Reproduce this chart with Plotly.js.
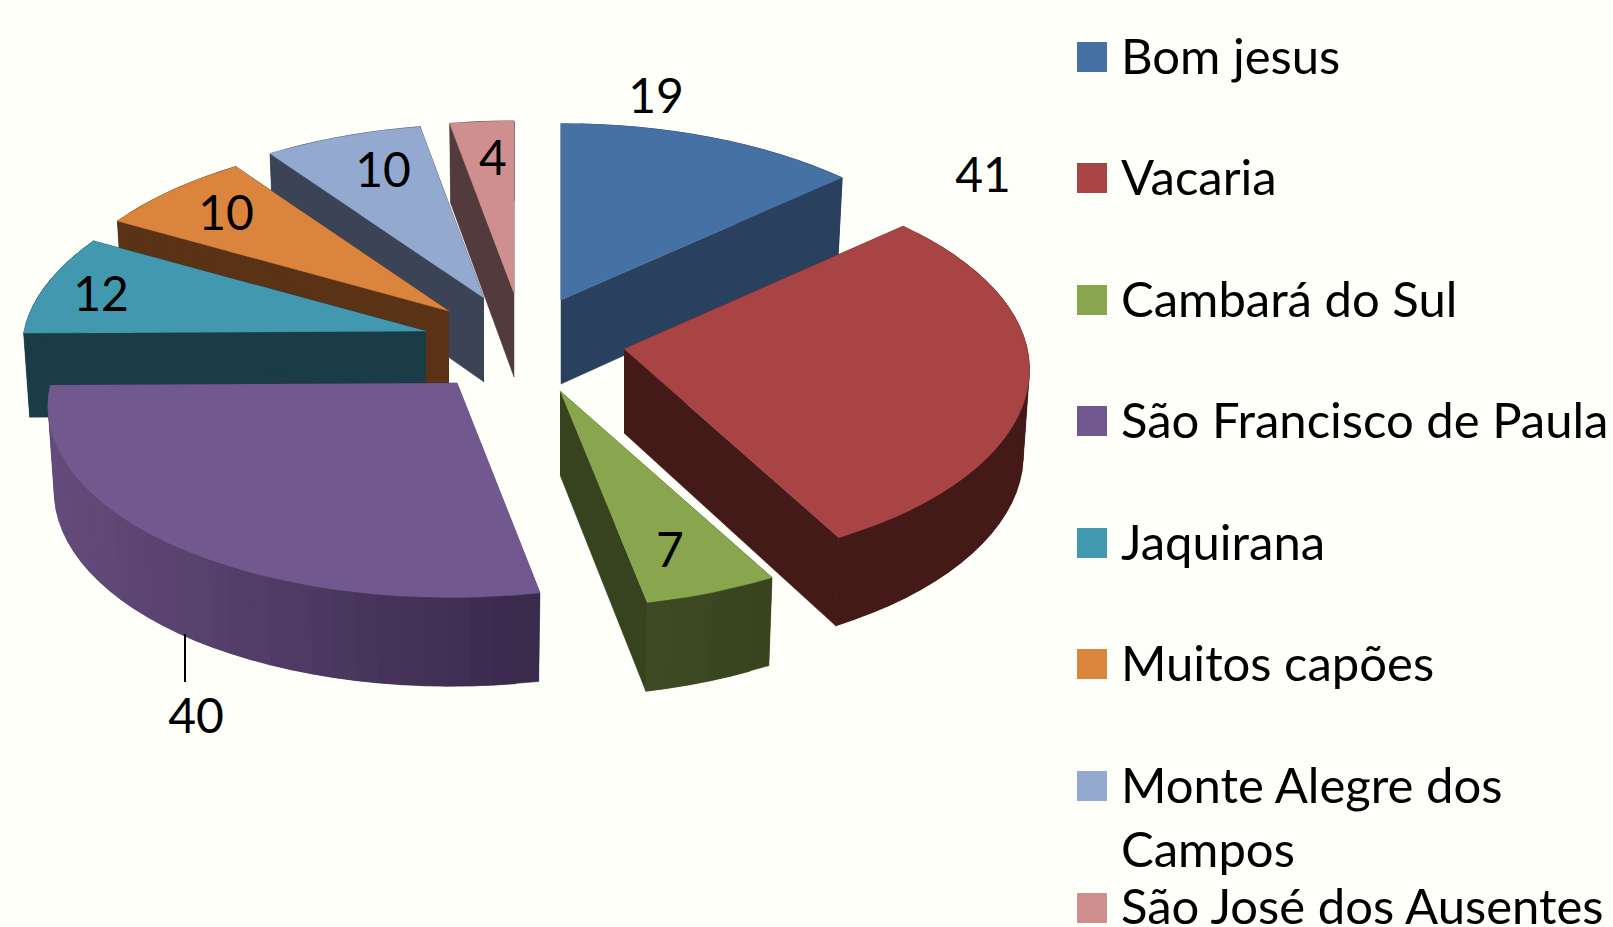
<!DOCTYPE html>
<html>
<head>
<meta charset="utf-8">
<script src="https://cdn.plot.ly/plotly-3.0.1.min.js"></script>
<style>html,body{margin:0;padding:0;background:#fffff9;overflow:hidden}</style>
</head>
<body>
<div id="chart" style="width:1613px;height:927px"></div>
<script>
// ---- data ----
const categories = ["Bom jesus","Vacaria","Cambará do Sul","São Francisco de Paula","Jaquirana","Muitos capões","Monte Alegre dos<br>Campos","São José dos Ausentes"];
const values = [19,41,7,40,12,10,10,4];

// ---- styles ----
const topColors = ["#4571a5","#a84444","#89a54e","#71588f","#4198af","#db843d","#93a9cf","#cf8f8f"];
const wallLeft  = ["#29415f","#441a19","#3e4c24","#644b7c","#1a3c47","#5a3216","#3a4456","#533a3c"];
const wallRight = ["#29415f","#441a19","#36431e","#39294a","#1a3c47","#5a3216","#3a4456","#533a3c"];

// ---- layout of the exploded pie: the pixel-space anchor of every slice ----
const apexX = [561,624,560,457,426,449,484,514];
const apexY = [300,349,391,383,331,311,298,293];
const sliceRx = [1,0.993,0.98,1,0.99,0.988,0.992,1];
const sliceRy = [1.015,1.02,1.008,1,1,1,1,0.99];
const sliceShear = [0,0,0,6,0,0,0,0];
const labelX = [656,983,670,196,101,226,383,493];
const labelY = [101,180,555,721,299,218,175,163];
const drawOrder = [7,6,5,4,0,1,2,3];
const RX = 406, RY = 192, PERSP = 0.105, DEPTH = 84, BOTTOM_SHRINK = 0.985;
const FONT = "Lato, Carlito, sans-serif", LEGEND_FS = 49, LABEL_FS = 48;

const total = values.reduce((a,b)=>a+b,0);
const startFrac = [];
values.reduce((acc,v,i)=>{startFrac[i]=acc/total;return acc+v;},0);

function project(i, deg, r, bottom){
  const a = deg*Math.PI/180, u = r*Math.sin(a), v = r*Math.cos(a);
  const s = 1/(1+PERSP*v);
  let dx = RX*sliceRx[i]*u*s + sliceShear[i]*v;
  const dy = -RY*sliceRy[i]*v*s;
  if(bottom) dx *= BOTTOM_SHRINK;
  return [apexX[i]+dx, apexY[i]+dy+(bottom?DEPTH*Math.sqrt(s):0)];
}
function poly(pts,color){
  return {type:"scatter",mode:"lines",x:pts.map(p=>p[0]),y:pts.map(p=>p[1]),fill:"toself",fillcolor:color,
    line:{color:color,width:0.5},hoverinfo:"skip",showlegend:false};
}
function hex(c){return [1,3,5].map(k=>parseInt(c.substr(k,2),16));}
function mix(a,b,t){const A=hex(a),B=hex(b);return "rgb("+A.map((x,k)=>Math.round(x+(B[k]-x)*t)).join(",")+")";}

const traces = [];
drawOrder.forEach(i=>{
  const a0 = startFrac[i]*360, a1 = a0+values[i]/total*360;
  const n = Math.max(6,Math.ceil((a1-a0)/3));
  const angs = [];
  for(let k=0;k<=n;k++) angs.push(a0+(a1-a0)*k/n);
  // radial walls
  traces.push(poly([project(i,a0,0,false),project(i,a0,1,false),project(i,a0,1,true),project(i,a0,0,true)],wallLeft[i]));
  traces.push(poly([project(i,a1,0,false),project(i,a1,1,false),project(i,a1,1,true),project(i,a1,0,true)],wallRight[i]));
  // outer wall, shaded along x; each band overlaps the next one so no seams show
  const xs = angs.map(a=>project(i,a,1,false)[0]);
  const xmin = Math.min(...xs), xmax = Math.max(...xs);
  for(let k=0;k<n;k++){
    const t = ((xs[k]+xs[k+1])/2-xmin)/(xmax-xmin);
    const arc = angs.slice(k,Math.min(k+3,n+1));
    const pts = arc.map(a=>project(i,a,1,false)).concat(arc.slice().reverse().map(a=>project(i,a,1,true)));
    traces.push(poly(pts,mix(wallLeft[i],wallRight[i],t)));
  }
  // top face
  const pts = [project(i,a0,0,false)];
  angs.forEach(a=>pts.push(project(i,a,1,false)));
  traces.push(poly(pts,topColors[i]));
});

// leader line of the "40" label
traces.push({type:"scatter",mode:"lines",x:[185,185],y:[634,682],line:{color:"#000",width:2},hoverinfo:"skip",showlegend:false});

// data labels
traces.push({type:"scatter",mode:"text",x:labelX,y:labelY,text:values.map(String),textposition:"middle center",
  textfont:{family:FONT,size:LABEL_FS,color:"#000"},hoverinfo:"skip",showlegend:false});

// legend
const legendY = [57,178,300,421,543,664,786,908];
const legendTextY = [55,176,298,419,541,662,816,905];
traces.push({type:"scatter",mode:"markers",x:categories.map(()=>1092),y:legendY,
  marker:{symbol:"square",size:30,color:topColors,line:{width:0}},hoverinfo:"skip",showlegend:false});

const annotations = categories.map((c,i)=>({xref:"x",yref:"y",x:1120,y:legendTextY[i],text:c,showarrow:false,
  xanchor:"left",yanchor:"middle",align:"left",font:{family:FONT,size:LEGEND_FS,color:"#000"},borderpad:0}));

Plotly.newPlot("chart",traces,{
  width:1613,height:927,margin:{l:0,r:0,t:0,b:0},
  paper_bgcolor:"#fffff9",plot_bgcolor:"#fffff9",showlegend:false,
  xaxis:{range:[0,1613],visible:false,fixedrange:true},
  yaxis:{range:[927,0],visible:false,fixedrange:true},
  annotations
},{displayModeBar:false,staticPlot:true});
</script>
</body>
</html>
